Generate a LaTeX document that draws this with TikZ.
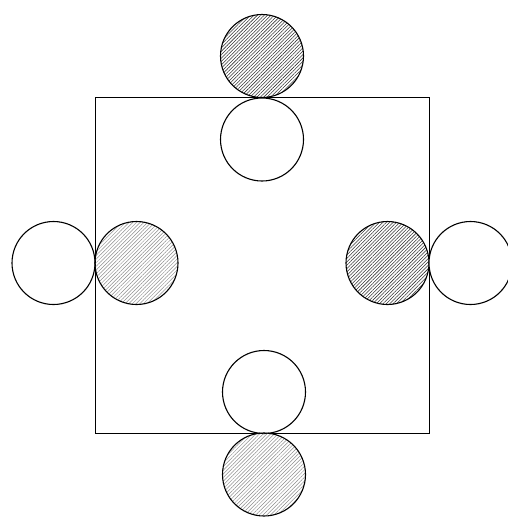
\documentclass[tikz,border=0pt]{standalone}
\usetikzlibrary{patterns.meta}
\begin{document}
\begin{tikzpicture}[x=1pt,y=-1pt,
  roll/.style={circle,draw=black,line width=1.1pt,minimum size=83pt,inner sep=0pt,fill=white},
  darkhatch/.style={roll,pattern={Lines[angle=45,distance=2.4pt,line width=0.55pt]},pattern color=black!80},
  lighthatch/.style={roll,pattern={Lines[angle=45,distance=2.6pt,line width=0.5pt]},pattern color=black!45}]
\useasboundingbox (0,0) rectangle (508,517);
\node[draw=black,line width=1pt,minimum width=334pt,minimum height=336pt,inner sep=0pt] (sq) at (262,265) {};
% top
\node[darkhatch] (th) at (262,56) {};
\node[roll] (tw) at (262,139.5) {};
% left
\node[roll] (lw) at (53.5,263) {};
\node[lighthatch] (lh) at (136.5,263) {};
% right
\node[darkhatch] (rh) at (387.5,263) {};
\node[roll] (rw) at (470.5,263) {};
% bottom
\node[roll] (bw) at (264,392) {};
\node[lighthatch] (bh) at (264,474.5) {};
\end{tikzpicture}
\end{document}
